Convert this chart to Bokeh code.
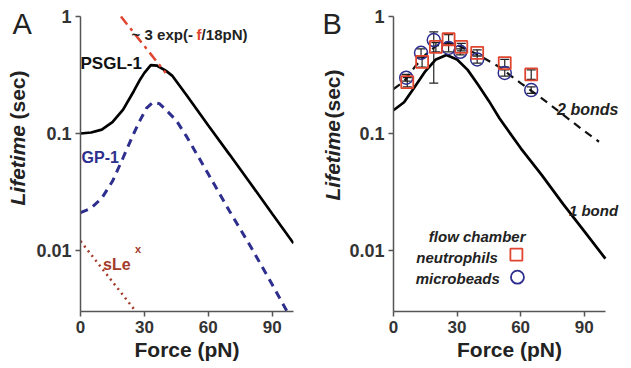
import math
from bokeh.plotting import figure
from bokeh.models import Label, FixedTicker, Whisker, ColumnDataSource, TeeHead
from bokeh.core.properties import value
from bokeh.layouts import row
from bokeh.embed import file_html
from bokeh.resources import INLINE

# ---------------- data ----------------
x_ticks = [0, 30, 60, 90]
y_ticks = [0.01, 0.1, 1]
y_tick_labels = ["0.01", "0.1", "1"]

# Panel A
psgl_f = [0, 5, 10, 15, 20, 25, 28, 30, 33, 36, 40, 43, 50, 60, 70, 80, 90, 100]
psgl_L = [0.100, 0.102, 0.108, 0.125, 0.16, 0.23, 0.29, 0.33, 0.385, 0.38, 0.345,
          0.313, 0.21, 0.117, 0.066, 0.037, 0.0206, 0.0115]
gp_f = [0, 5, 10, 15, 20, 25, 28, 31, 34, 37, 40, 45, 50, 60, 70, 80, 90, 97]
gp_L = [0.021, 0.023, 0.028, 0.039, 0.062, 0.10, 0.13, 0.165, 0.185, 0.18, 0.16,
        0.129, 0.093, 0.045, 0.0216, 0.0107, 0.0051, 0.003]
sle_f = [0, 26]
sle_L = [0.012, 0.003]
exp_f = [19, 40]
exp_L = [1.0, 0.33]

# Panel B
bond1_f = [0, 5, 10, 15, 20, 25, 30, 35, 40, 45, 50, 60, 70, 80, 90, 100]
bond1_L = [0.158, 0.185, 0.25, 0.34, 0.43, 0.47, 0.43, 0.35, 0.26, 0.19, 0.135,
           0.075, 0.044, 0.025, 0.0146, 0.0085]
bond2_f = [0, 5, 10, 15, 20, 25, 30, 35, 40, 50, 60, 70, 80, 90, 97]
bond2_L = [0.24, 0.28, 0.37, 0.47, 0.56, 0.60, 0.57, 0.52, 0.47, 0.37, 0.27, 0.20,
           0.145, 0.105, 0.085]

neutro_f = [6.5, 13.5, 20, 26, 32, 39.5, 52.5, 65]
neutro_L = [0.275, 0.41, 0.55, 0.64, 0.55, 0.49, 0.40, 0.32]
neutro_lo = [0.25, 0.37, 0.50, 0.59, 0.51, 0.46, 0.37, 0.29]
neutro_hi = [0.30, 0.45, 0.60, 0.70, 0.59, 0.52, 0.43, 0.35]

beads_f = [6, 13, 19, 26, 31.5, 39.5, 52.5, 65]
beads_L = [0.30, 0.49, 0.63, 0.54, 0.50, 0.43, 0.33, 0.235]
beads_lo = [0.28, 0.45, 0.27, 0.50, 0.47, 0.40, 0.31, 0.22]
beads_hi = [0.32, 0.53, 0.74, 0.58, 0.53, 0.46, 0.35, 0.25]

legend_f = [58, 58.5]
legend_L = [0.0092, 0.0059]

# ---------------- style ----------------
FONT = "Liberation Sans"
AXIS_COL = "#555555"
TICK_COL = "#333333"
TXT = "#222222"
RED = "#e0452f"
NAVY = "#2e2e8e"
BROWN = "#a33a2a"
H = 366
TOP = 2        # frame top (page px)
BOTTOM = 55    # space below frame
FRAME_BOTTOM = H - BOTTOM


def make_fig(width, left, right, xmax):
    p = figure(width=width, height=H, x_range=(0, xmax), y_range=(0.003, 1.32),
               y_axis_type="log", output_backend="svg", toolbar_location=None,
               min_border_left=left, min_border_right=right, min_border_top=TOP,
               min_border_bottom=BOTTOM)
    p.outline_line_color = None
    p.grid.visible = False
    p.background_fill_color = "white"
    p.border_fill_color = "white"
    for ax in (p.xaxis[0], p.yaxis[0]):
        ax.axis_line_color = AXIS_COL
        ax.axis_line_width = 1.5
        ax.major_tick_line_color = AXIS_COL
        ax.major_tick_line_width = 1.5
        ax.major_tick_out = 5
        ax.major_tick_in = 0
        ax.minor_tick_line_color = None
        ax.major_label_text_font = FONT
        ax.major_label_text_font_style = "bold"
        ax.major_label_text_color = TICK_COL
    p.xaxis.major_label_text_font_size = "17px"
    p.xaxis.major_label_standoff = 4
    p.yaxis.major_label_text_font_size = "18px"
    p.yaxis.major_label_standoff = 4
    p.xaxis.bounds = (0, 100)
    p.yaxis.bounds = (0.003, 1)
    p.xaxis.ticker = FixedTicker(ticks=x_ticks)
    p.yaxis.ticker = FixedTicker(ticks=y_ticks)
    p.yaxis.major_label_overrides = {t: s for t, s in zip(y_ticks, y_tick_labels)}
    p.xaxis.axis_label = "Force (pN)"
    p.xaxis.axis_label_text_font = FONT
    p.xaxis.axis_label_text_font_style = "bold"
    p.xaxis.axis_label_text_font_size = "21px"
    p.xaxis.axis_label_text_color = TXT
    p.xaxis.axis_label_standoff = 2
    return p


def side_fig(width, letter, letter_x, cx, y_life, y_sec):
    """Narrow strip holding the panel letter and the y-axis title (y in page px)."""
    s = figure(width=width, height=H, x_range=(0, width), y_range=(FRAME_BOTTOM, TOP),
               x_axis_type=None, y_axis_type=None, output_backend="svg",
               toolbar_location=None, min_border_left=0, min_border_right=0,
               min_border_top=TOP, min_border_bottom=BOTTOM)
    s.outline_line_color = None
    s.grid.visible = False
    s.border_fill_color = "white"
    s.text(x=[letter_x], y=[7], text=[letter], text_font=value(FONT),
           text_font_size="29px", text_color=TXT, text_align="left",
           text_baseline="top")
    s.text(x=[cx], y=[y_life], text=["Lifetime"], angle=math.pi / 2,
           text_font=value(FONT), text_font_style="bold italic",
           text_font_size="21px", text_color=TXT, text_align="left",
           text_baseline="middle")
    s.text(x=[cx], y=[y_sec], text=["(sec)"], angle=math.pi / 2,
           text_font=value(FONT), text_font_style="bold",
           text_font_size="21px", text_color=TXT, text_align="left",
           text_baseline="middle")
    return s


def lab(p, x, y, text, color=TXT, style="bold", size="17px", align="left", xo=0):
    p.add_layout(Label(x=x, y=y, x_offset=xo, text=text, text_font=FONT,
                       text_font_style=style, text_font_size=size, text_color=color,
                       text_align=align, text_baseline="alphabetic"))


# ---------------- Panel A ----------------
sA = side_fig(33, "A", 12, 17, 205, 119)
pA = make_fig(280, 44, 20, 100)
pA.line(psgl_f, psgl_L, line_color="black", line_width=2.7)
pA.line(gp_f, gp_L, line_color=NAVY, line_width=3, line_dash="8 6")
pA.line(sle_f, sle_L, line_color=BROWN, line_width=2.5, line_dash="2 4")
pA.line(exp_f, exp_L, line_color=RED, line_width=2.5, line_dash="10 5 3 5")

lab(pA, 0.0, 0.40, "PSGL-1", color="#111111")
lab(pA, 0.5, 0.062, "GP-1", color=NAVY, size="16px")
lab(pA, 10.6, 0.0075, "sLe", color=BROWN, size="16px")
lab(pA, 25.6, 0.0102, "x", color=BROWN, size="11px")
lab(pA, 24.0, 0.70, "~ 3 exp(-", size="15px")
lab(pA, 24.0, 0.70, "f", color=RED, size="15px", xo=65)
lab(pA, 24.0, 0.70, "/18pN)", size="15px", xo=70)

# ---------------- Panel B ----------------
sB = side_fig(33, "B", 9, 19, 200, 118)
pB = make_fig(283, 44, 4, 109.5)
pB.line(bond1_f, bond1_L, line_color="black", line_width=2.7)
pB.line(bond2_f, bond2_L, line_color="#111111", line_width=2.2, line_dash="8 6")

src_n = ColumnDataSource(dict(f=neutro_f, L=neutro_L, lo=neutro_lo, hi=neutro_hi))
src_b = ColumnDataSource(dict(f=beads_f, L=beads_L, lo=beads_lo, hi=beads_hi))
for src in (src_n, src_b):
    pB.add_layout(Whisker(source=src, base="f", lower="lo", upper="hi",
                          line_color="#222222", line_width=1.2,
                          upper_head=TeeHead(size=9, line_color="#222222", line_width=1.2),
                          lower_head=TeeHead(size=9, line_color="#222222", line_width=1.2)))
pB.scatter("f", "L", source=src_b, marker="circle", size=13, fill_color=None,
           line_color=NAVY, line_width=1.5)
pB.scatter("f", "L", source=src_n, marker="square", size=12, fill_color=None,
           line_color=RED, line_width=1.8)

pB.scatter([legend_f[0]], [legend_L[0]], marker="square", size=12, fill_color=None,
           line_color=RED, line_width=1.8)
pB.scatter([legend_f[1]], [legend_L[1]], marker="circle", size=13, fill_color=None,
           line_color=NAVY, line_width=1.8)

lab(pB, 77.2, 0.16, "2 bonds", style="bold italic", size="16px")
lab(pB, 82.8, 0.022, "1 bond", style="bold italic", size="15px")
lab(pB, 62.3, 0.0132, "flow chamber", style="bold italic", size="15px", align="right")
lab(pB, 49.3, 0.0087, "neutrophils", style="bold italic", size="15px", align="right")
lab(pB, 50.2, 0.0057, "microbeads", style="bold italic", size="15px", align="right")

layout = row(sA, pA, sB, pB)
open("out.html", "w").write(file_html(layout, INLINE))
